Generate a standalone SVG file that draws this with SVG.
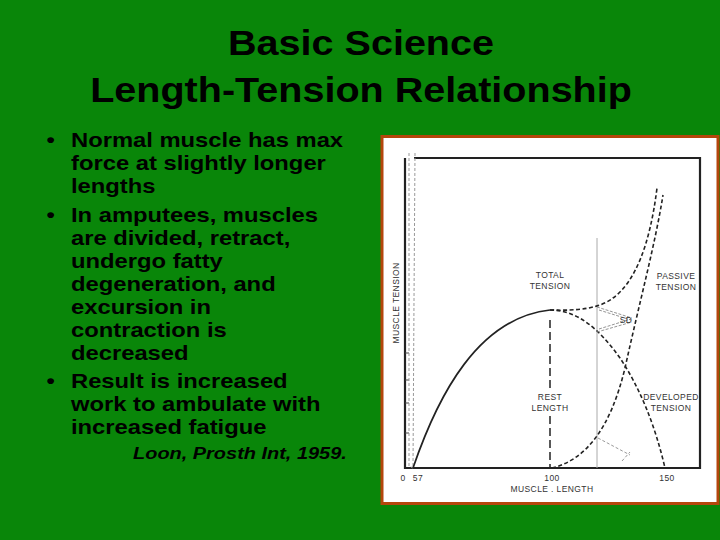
<svg xmlns="http://www.w3.org/2000/svg" width="720" height="540" viewBox="0 0 720 540">
<style>
.title{font-family:"Liberation Sans",Arial,sans-serif;font-weight:bold;font-size:35px;fill:#000;text-anchor:middle}
.body{font-family:"Liberation Sans",Arial,sans-serif;font-weight:bold;font-size:20.5px;fill:#000}
.cite{font-family:"Liberation Sans",Arial,sans-serif;font-weight:bold;font-style:italic;font-size:17.2px;fill:#000}
.lbl{font-family:"Liberation Sans",Arial,sans-serif;font-size:8.5px;fill:#333;text-anchor:middle;letter-spacing:0.4px}
.ax{stroke:#222;stroke-width:2.2;fill:none}
.dash{stroke:#222;stroke-width:1.6;fill:none;stroke-dasharray:4 2.5}
.faint{stroke:#999;stroke-width:1;fill:none;stroke-dasharray:3 2}
</style>
<rect width="720" height="540" fill="#098609"/>
<g id="title" transform="matrix(1.13 0 0 1 0 0)">
<text class="title" x="319.5" y="55">Basic Science</text>
<text class="title" x="319.5" y="102">Length-Tension Relationship</text>
</g>
<g id="bullets" transform="matrix(1.16 0 0 1 0 0)">
<text class="body" x="40" y="147">•</text>
<text class="body" x="61.2" y="147">Normal muscle has max</text>
<text class="body" x="61.2" y="170.1">force at slightly longer</text>
<text class="body" x="61.2" y="193.2">lengths</text>
<text class="body" x="40" y="221.7">•</text>
<text class="body" x="61.2" y="221.7">In amputees, muscles</text>
<text class="body" x="61.2" y="244.8">are divided, retract,</text>
<text class="body" x="61.2" y="267.9">undergo fatty</text>
<text class="body" x="61.2" y="291">degeneration, and</text>
<text class="body" x="61.2" y="314.1">excursion in</text>
<text class="body" x="61.2" y="337.2">contraction is</text>
<text class="body" x="61.2" y="360.3">decreased</text>
<text class="body" x="40" y="388">•</text>
<text class="body" x="61.2" y="388">Result is increased</text>
<text class="body" x="61.2" y="411.1">work to ambulate with</text>
<text class="body" x="61.2" y="434.2">increased fatigue</text>
<text class="cite" x="114.7" y="459">Loon, Prosth Int, 1959.</text>
</g>
<g id="figure">
<rect x="382" y="136.5" width="336" height="367" fill="#fff" stroke="#b4460c" stroke-width="3"/>
<g id="axes">
<path class="ax" d="M405,158 V468 H700 V158 H414"/>
<path d="M405,353 h4 M405,380 h4 M405,403 h4 M405,433 h4" stroke="#444" stroke-width="1"/>
<path class="faint" d="M409,153 V466 L413,468 M415,153 L414,300 L413,468"/>
</g>
<g id="guides">
<line x1="597" y1="238" x2="597" y2="468" stroke="#aaa" stroke-width="1"/>
<line x1="550" y1="320" x2="550" y2="468" stroke="#222" stroke-width="1.5" stroke-dasharray="8 4"/>
</g>
<g id="curves">
<path d="M413,468 C438,395 478,318 550,310" stroke="#222" stroke-width="1.7" fill="none"/>
<path class="dash" d="M550,310 C578,310 600,330 620,358 C640,388 655,425 665,468"/>
<path class="dash" d="M552,468 C585,460 610,430 625,368 C640,300 655,245 663,195"/>
<path class="dash" d="M550,310 C580,311 600,308 613,298 C635,282 650,245 657,188"/>
</g>
<g id="sd">
<path d="M597,307 L632,318 M599,310 L631,320 M597,332 L632,322 M599,329 L631,319" stroke="#888" stroke-width="0.9" stroke-dasharray="3 1.5" fill="none"/>
<text class="lbl" x="626" y="323" fill="#666">SD</text>
<path class="faint" d="M598,438 L630,455 M622,461 L630,452" stroke="#ccc"/>
</g>
<g id="labels">
<rect x="534" y="391" width="32" height="23" fill="#fff"/>
<text class="lbl" x="550" y="278">TOTAL</text>
<text class="lbl" x="550" y="289">TENSION</text>
<text class="lbl" x="676" y="279">PASSIVE</text>
<text class="lbl" x="676" y="290">TENSION</text>
<text class="lbl" x="550" y="400">REST</text>
<text class="lbl" x="550" y="411">LENGTH</text>
<text class="lbl" x="671" y="400">DEVELOPED</text>
<text class="lbl" x="671" y="411">TENSION</text>
<text class="lbl" x="403" y="481">0</text>
<text class="lbl" x="418" y="481">57</text>
<text class="lbl" x="552" y="481">100</text>
<text class="lbl" x="667" y="481">150</text>
<text class="lbl" x="552" y="492">MUSCLE . LENGTH</text>
<text class="lbl" transform="translate(399,303) rotate(-90)">MUSCLE TENSION</text>
</g>
</g>
</svg>
